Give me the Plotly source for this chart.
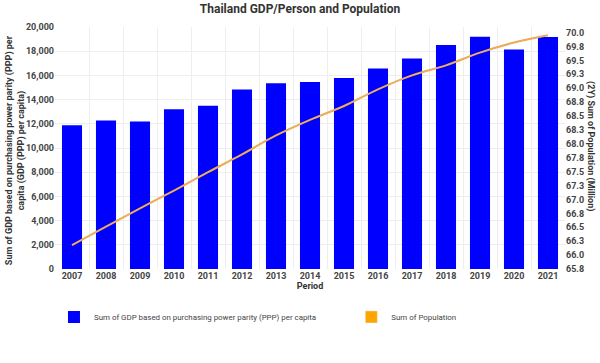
import plotly.graph_objects as go

periods = ["2007", "2008", "2009", "2010", "2011", "2012", "2013", "2014",
           "2015", "2016", "2017", "2018", "2019", "2020", "2021"]
gdp_ppp_per_capita = [11890, 12270, 12190, 13200, 13500, 14840, 15350, 15460,
                      15790, 16580, 17400, 18520, 19200, 18140, 19180]
population_million = [66.18, 66.51, 66.84, 67.16, 67.49, 67.81, 68.15, 68.43,
                      68.68, 68.98, 69.23, 69.41, 69.64, 69.82, 69.95]

gdp_name = "Sum of GDP based on purchasing power parity (PPP) per capita"
pop_name = "Sum of Population"
title_text = "Thailand GDP/Person and Population"
y1_title = "Sum of GDP based on purchasing power parity (PPP) per<br>capita (GDP (PPP) per capita)"
y2_title = "(2Y) Sum of Population (Million)"
x_title = "Period"

FONT = "Roboto, Arial, sans-serif"
TICK_FONT = dict(family=FONT, size=9, color="#444444", weight="bold")
LEGEND_FONT = dict(family=FONT, size=7.9, color="#444444")

fig = go.Figure()
fig.add_trace(go.Bar(x=periods, y=gdp_ppp_per_capita, name=gdp_name,
                     marker=dict(color="#0000FF", line=dict(width=0)),
                     showlegend=True, legend="legend"))
fig.add_trace(go.Scatter(x=periods, y=population_million, name=pop_name,
                         mode="lines", yaxis="y2",
                         line=dict(color="#F5A623", width=2.0, shape="spline"),
                         showlegend=False))
fig.add_trace(go.Scatter(x=periods, y=population_million, name=pop_name,
                         mode="lines", yaxis="y2",
                         line=dict(color="#D9B3C9", width=0.7, shape="spline"),
                         showlegend=False, hoverinfo="skip"))
# legend swatch for population (square like the reference)
fig.add_trace(go.Bar(x=[None], y=[None], name=pop_name,
                     marker=dict(color="#FFA500"), showlegend=True,
                     legend="legend2"))

fig.update_layout(
    width=600, height=363,
    margin=dict(l=55, r=35, t=27, b=94),
    paper_bgcolor="white", plot_bgcolor="white",
    barmode="overlay", bargap=0.41,
    title=dict(text=f"<b>{title_text}</b>", x=0.5, xanchor="center",
               y=0.975, yanchor="middle",
               font=dict(family=FONT, size=12, color="#333333")),
    xaxis=dict(type="category", tickson="boundaries", showgrid=True,
               gridcolor="#eeeeee", ticks="", tickfont=TICK_FONT,
               automargin=False,
               title=dict(text=f"<b>{x_title}</b>", standoff=2,
                          font=dict(family=FONT, size=9, color="#333333")),
               showline=False, zeroline=False),
    yaxis=dict(range=[0, 20000], dtick=2000, tickformat=",d",
               showgrid=True, gridcolor="#eeeeee", zeroline=False,
               tickfont=TICK_FONT, ticks="", ticklen=0, automargin=False),
    yaxis2=dict(range=[65.75, 70.1], tick0=65.75, dtick=0.25, tickformat=".1f",
                overlaying="y", side="right", showgrid=False, zeroline=False,
                tickfont=TICK_FONT, automargin=False),
    legend=dict(orientation="h", x=-0.002, xanchor="left", y=-0.198,
                yanchor="middle", font=LEGEND_FONT, itemclick=False),
    legend2=dict(orientation="h", x=0.581, xanchor="left", y=-0.198,
                 yanchor="middle", font=LEGEND_FONT, itemclick=False),
    annotations=[
        dict(text=f"<b>{y1_title}</b>", textangle=-90,
             xref="paper", yref="paper", x=-0.077, y=0.49,
             xanchor="center", yanchor="middle", showarrow=False,
             font=dict(family=FONT, size=9, color="#333333")),
        dict(text=f"<b>{y2_title}</b>", textangle=90,
             xref="paper", yref="paper", x=1.05, y=0.51,
             xanchor="center", yanchor="middle", showarrow=False,
             font=dict(family=FONT, size=9, color="#333333")),
    ],
)

fig.write_html("out.html", config={"displayModeBar": False},
               post_script="document.body.style.margin='0';")
